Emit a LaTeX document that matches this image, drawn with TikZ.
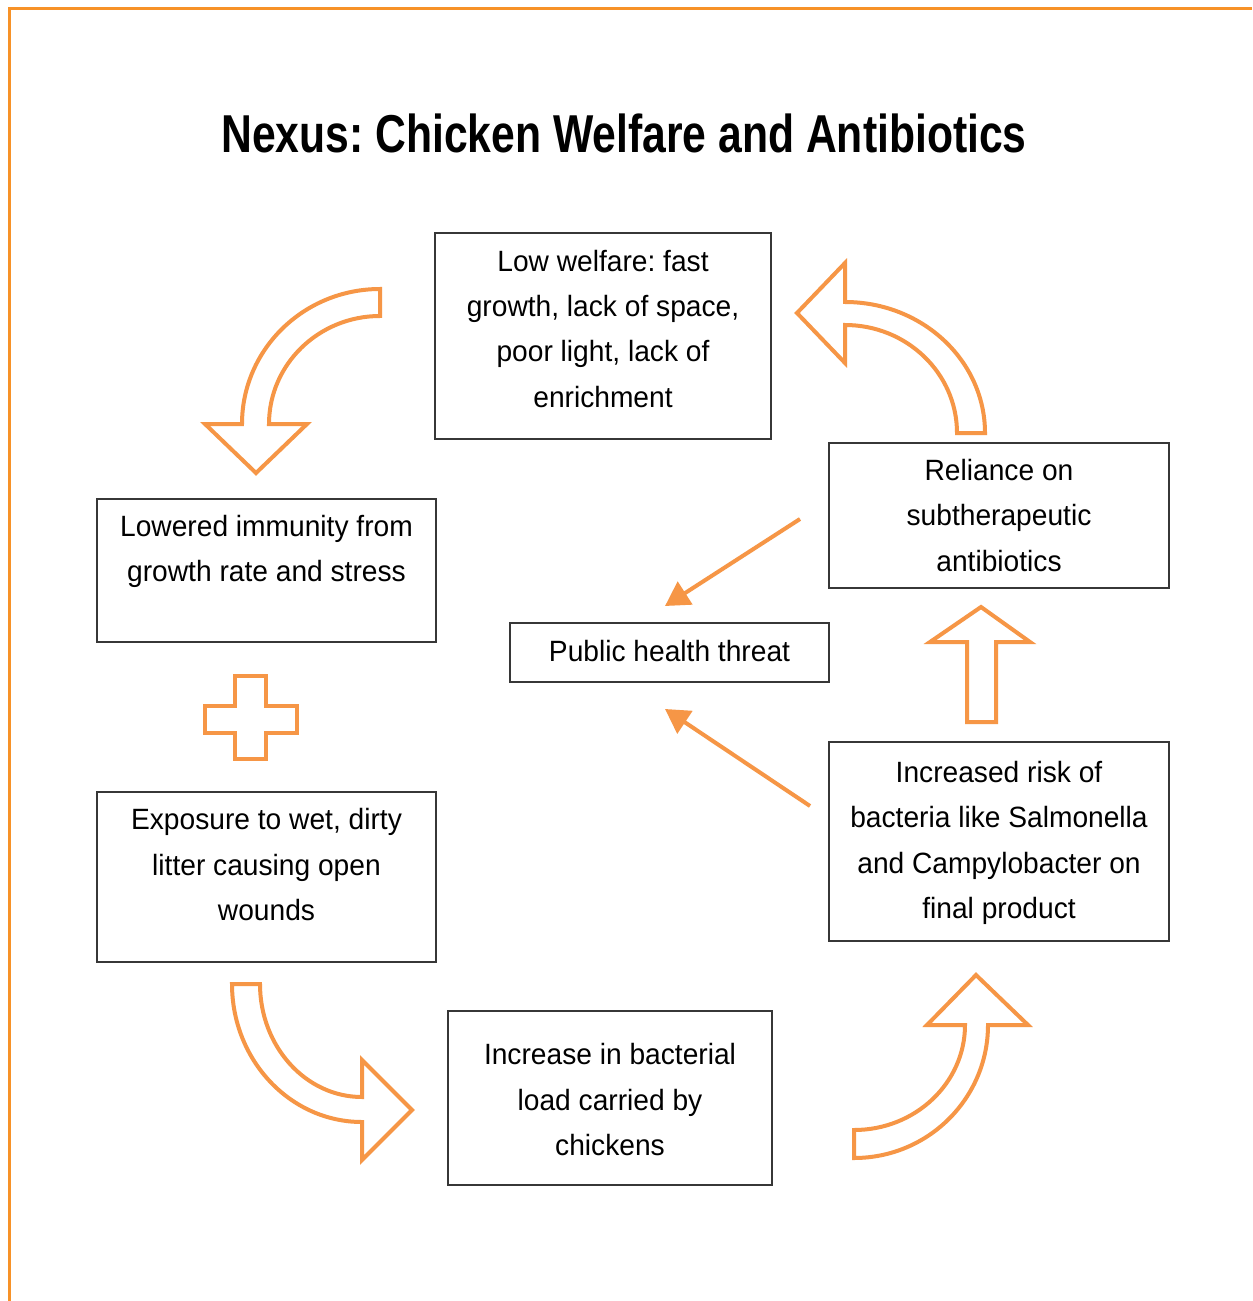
\documentclass[tikz,border=0pt]{standalone}
\usepackage{fontspec}
\setmainfont{Liberation Sans}[FakeStretch=0.96]
\newfontfamily\titlefont{Liberation Sans}[FakeStretch=0.8]
\usetikzlibrary{arrows.meta}
\frenchspacing
\definecolor{arr}{RGB}{246,150,70}
\definecolor{framecol}{RGB}{247,146,40}
\definecolor{boxline}{RGB}{55,55,55}
\newcommand\bx[2]{\raisebox{#1}[\height][\depth]{\begin{tabular}{@{}c@{}}#2\end{tabular}}}
\begin{document}
\begin{tikzpicture}[x=0.75pt,y=-0.75pt,
  box/.style={draw=boxline,line width=1.3pt,inner sep=0pt,outer sep=0pt,font=\fontsize{22pt}{34pt}\selectfont},
  blockarrow/.style={draw=arr,line width=3pt,fill=white,line join=miter},
  thinarrow/.style={draw=arr,line width=3pt,-{Triangle[length=18pt,width=20pt]}}]
\useasboundingbox[fill=white] (0,0) rectangle (1252,1301);
% frame
\draw[framecol,line width=2.25pt] (9,1301) -- (9,9) -- (1252,9);
% title
\node[font=\titlefont\bfseries\fontsize{40pt}{48pt}\selectfont,anchor=base,inner sep=0pt] (title) at (624,153) {Nexus: Chicken Welfare and Antibiotics};
% boxes
\node[box,minimum width=252pt,minimum height=154.5pt] (low) at (603,336) {\bx{4.5pt}{Low welfare: fast\\growth, lack of space,\\poor light, lack of\\enrichment}};
\node[box,minimum width=254.25pt,minimum height=107.25pt] (imm) at (266.5,570.5) {\bx{15.4pt}{Lowered immunity from\\growth rate and stress}};
\node[box,minimum width=254.25pt,minimum height=127.5pt] (expo) at (266.5,877) {\bx{8.25pt}{Exposure to wet, dirty\\litter causing open\\wounds}};
\node[box,minimum width=243pt,minimum height=130.5pt] (load) at (610,1098) {\bx{-2.25pt}{Increase in bacterial\\load carried by\\chickens}};
\node[box,minimum width=255pt,minimum height=149.25pt] (risk) at (999,841.5) {\bx{0pt}{Increased risk of\\bacteria like Salmonella\\and Campylobacter on\\final product}};
\node[box,minimum width=255pt,minimum height=108.75pt] (rel) at (999,515.5) {\bx{-1pt}{Reliance on\\subtherapeutic\\antibiotics}};
\node[box,minimum width=239.25pt,minimum height=44.25pt] (pub) at (669.5,652.5) {\bx{0pt}{Public health threat}};
% curved block arrows
\draw[blockarrow] (380,289) arc[start angle=90,end angle=180,x radius=103.5pt,y radius=101.25pt]
  -- (205,424) -- (256,473) -- (307,424) -- (269,424)
  arc[start angle=180,end angle=90,x radius=83.25pt,y radius=81pt] -- cycle;
\draw[blockarrow] (985,433) arc[start angle=0,end angle=90,x radius=105pt,y radius=98.25pt]
  -- (845,263) -- (797,313) -- (845,363) -- (845,325)
  arc[start angle=90,end angle=0,x radius=84pt,y radius=81pt] -- cycle;
\draw[blockarrow] (232,984) arc[start angle=180,end angle=270,x radius=97.5pt,y radius=103.5pt]
  -- (362,1160) -- (412,1110) -- (362,1060) -- (362,1097)
  arc[start angle=270,end angle=180,x radius=76.5pt,y radius=84.75pt] -- cycle;
\draw[blockarrow] (854,1130) -- (854,1158)
  arc[start angle=270,end angle=360,x radius=100.5pt,y radius=99.75pt]
  -- (1028,1025) -- (976,975) -- (927,1025) -- (965,1025)
  arc[start angle=0,end angle=-90,x radius=83.25pt,y radius=78.75pt] -- cycle;
% straight up arrow
\draw[blockarrow] (967,722) -- (967,642) -- (930,642) -- (981,607) -- (1030,642) -- (996,642) -- (996,722) -- cycle;
% plus
\draw[blockarrow] (235,676) -- (266,676) -- (266,706) -- (297,706) -- (297,733) -- (266,733) -- (266,759) -- (235,759) -- (235,733) -- (205,733) -- (205,706) -- (235,706) -- cycle;
% thin arrows to public health threat
\coordinate (p1s) at (800,519);
\coordinate (p1e) at (665,606);
\coordinate (p2s) at (810,806);
\coordinate (p2e) at (665,709);
\draw[thinarrow] (p1s) -- (p1e);
\draw[thinarrow] (p2s) -- (p2e);
\end{tikzpicture}
\end{document}
